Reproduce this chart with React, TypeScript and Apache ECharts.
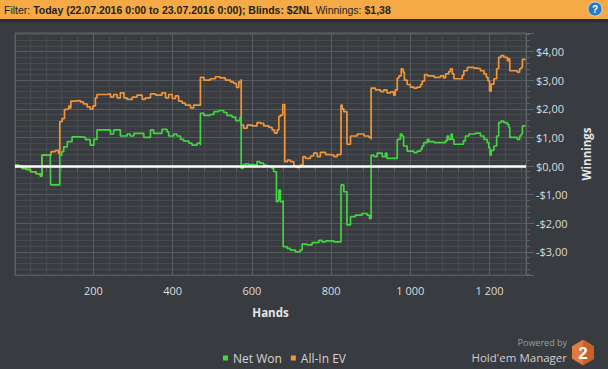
import React, { useEffect, useRef } from "react";
import * as echarts from "echarts";

// ---- data (hand number, winnings in $) ----
const netWon: [number, number][] = [
  [2, 0.03], [12, 0.0], [20, -0.08], [30, -0.12], [41, -0.2], [55, -0.27], [66, -0.35], [70, -0.35], [70, 0.38], [91, 0.38],
  [92, -0.66], [115, -0.66], [115, 0.38], [120, 0.5], [125, 0.67], [134, 0.85], [146, 1.02], [167, 1.0],
  [180, 0.92], [192, 0.73], [201, 0.93], [209, 1.26], [239, 1.26], [243, 1.12], [251, 1.26], [268, 1.05],
  [285, 1.12], [293, 1.05], [302, 1.14], [327, 1.0], [344, 1.26], [352, 1.14], [373, 1.28], [386, 1.19],
  [390, 1.05], [403, 1.12], [411, 1.05], [420, 0.93], [428, 0.87], [441, 0.8], [449, 0.73], [462, 0.8],
  [470, 0.73], [470, 1.84], [479, 1.77], [495, 1.8], [504, 1.9], [516, 1.94], [529, 1.87], [537, 1.77],
  [550, 1.71], [559, 1.59], [570, 1.7], [573, 1.7], [573, -0.08], [578, 0.05], [584, 0.08], [592, 0.05],
  [602, 0.03], [613, 0.15], [620, 0.1], [630, 0.03], [638, 0.0], [651, -0.08], [655, -0.2], [662, -0.2],
  [662, -1.25], [666, -1.2], [668, -0.84], [672, -1.25], [679, -1.2], [679, -2.82], [689, -2.88], [697, -2.94],
  [710, -3.0], [722, -2.94], [727, -2.73], [739, -2.76], [752, -2.68], [769, -2.6], [777, -2.65], [786, -2.62],
  [807, -2.65], [825, -2.6], [825, -0.66], [832, -0.9], [840, -0.9], [840, -2.06], [849, -1.77], [861, -1.72],
  [878, -1.66], [891, -1.72], [897, -1.84], [901, -1.84], [901, 0.38], [908, 0.33], [916, 0.45], [929, 0.33],
  [937, 0.45], [941, 0.27], [962, 0.27], [967, 0.93], [975, 1.12], [979, 1.05], [983, 0.7], [992, 0.52],
  [1009, 0.47], [1017, 0.52], [1026, 0.59], [1030, 0.7], [1034, 0.82], [1043, 0.93], [1047, 0.85], [1060, 0.82],
  [1084, 0.82], [1089, 0.88], [1093, 1.05], [1097, 0.93], [1103, 1.12], [1106, 0.93], [1110, 0.76], [1131, 0.76],
  [1134, 0.88], [1139, 1.05], [1148, 1.12], [1165, 1.15], [1177, 1.05], [1186, 0.93], [1194, 0.82], [1198, 0.64],
  [1201, 0.38], [1204, 0.55], [1211, 0.7], [1218, 1.05], [1223, 1.52], [1229, 1.57], [1236, 1.52], [1245, 1.45],
  [1249, 1.34], [1251, 1.0], [1266, 1.0], [1270, 0.93], [1276, 1.05], [1280, 1.12], [1283, 1.4], [1291, 1.42],
];

const allInEV: [number, number][] = [
  [2, 0.03], [12, 0.0], [20, -0.08], [30, -0.12], [41, -0.2], [55, -0.27], [66, -0.35], [70, -0.35], [70, 0.38], [91, 0.38],
  [93, 0.5], [104, 0.55], [112, 0.43], [115, 0.43], [115, 1.55], [121, 1.66], [127, 1.98], [134, 2.0],
  [138, 2.1], [140, 2.03], [143, 2.27], [155, 2.29], [167, 2.24], [175, 2.17], [184, 2.07], [192, 1.99],
  [199, 2.1], [205, 2.38], [209, 2.5], [234, 2.52], [243, 2.41], [251, 2.5], [260, 2.38], [268, 2.56],
  [277, 2.38], [285, 2.33], [298, 2.41], [310, 2.48], [323, 2.33], [331, 2.38], [344, 2.52], [357, 2.48],
  [373, 2.56], [382, 2.38], [390, 2.5], [399, 2.36], [407, 2.45], [415, 2.27], [424, 2.2], [432, 2.13],
  [445, 2.03], [453, 2.13], [470, 2.1], [470, 3.1], [479, 3.0], [495, 3.05], [508, 3.12], [520, 3.08],
  [533, 3.0], [546, 2.94], [554, 2.89], [561, 2.75], [567, 2.94], [573, 3.03], [573, 1.43], [579, 1.32],
  [588, 1.43], [601, 1.4], [613, 1.52], [622, 1.49], [630, 1.4], [643, 1.35], [651, 1.26], [657, 1.15],
  [664, 1.26], [668, 1.73], [672, 1.78], [678, 2.15], [683, 2.15], [683, 0.15], [690, 0.21], [697, 0.15],
  [706, 0.0], [713, -0.05], [722, 0.03], [729, 0.33], [735, 0.27], [748, 0.35], [756, 0.45], [765, 0.33],
  [773, 0.48], [786, 0.4], [798, 0.38], [807, 0.33], [815, 0.4], [825, 0.45], [825, 2.13], [828, 2.0],
  [832, 1.9], [840, 1.9], [840, 0.76], [849, 1.05], [866, 1.12], [883, 1.05], [895, 1.0], [901, 0.93],
  [901, 2.72], [912, 2.66], [925, 2.6], [933, 2.66], [941, 2.56], [950, 2.59], [958, 2.48], [962, 2.66],
  [967, 3.07], [971, 3.15], [977, 3.4], [982, 3.28], [985, 3.0], [992, 2.85], [1000, 2.76], [1009, 2.72],
  [1017, 2.76], [1026, 2.85], [1030, 2.97], [1036, 3.2], [1043, 3.15], [1060, 3.1], [1076, 3.15], [1084, 3.08],
  [1089, 3.22], [1097, 3.3], [1101, 3.4], [1106, 3.22], [1110, 3.05], [1127, 3.05], [1131, 3.17], [1135, 3.33],
  [1144, 3.45], [1160, 3.42], [1169, 3.4], [1177, 3.33], [1186, 3.22], [1192, 3.1], [1196, 2.98], [1200, 2.62],
  [1204, 2.86], [1211, 3.05], [1218, 3.4], [1223, 3.8], [1229, 3.86], [1236, 3.8], [1245, 3.68], [1248, 3.75],
  [1251, 3.33], [1266, 3.33], [1270, 3.28], [1276, 3.4], [1280, 3.45], [1283, 3.73], [1291, 3.75],
];

const seriesNames = ["Net Won", "All-In EV"];
const xRange = [2, 1292];
const yRange = [-3.81, 4.65];
const headerParts = {
  label1: "Filter: ",
  filter: "Today (22.07.2016 0:00 to 23.07.2016 0:00); Blinds: $2NL",
  label2: " Winnings: ",
  winnings: "$1,38",
};

const FONT = "'Open Sans', 'Noto Sans', sans-serif";
const GREEN = "#3fd63f";
const ORANGE = "#f0963a";
const BG = "#383b3f";
const AXIS = "#606367";

const fmtMoney = (v: number) =>
  (v < 0 ? "-" : "") + "$" + Math.abs(v).toFixed(2).replace(".", ",");
const fmtHands = (v: number) =>
  v >= 1000 ? Math.floor(v / 1000) + " " + String(v % 1000).padStart(3, "0") : String(v);

export default function App() {
  const ref = useRef<HTMLDivElement>(null);
  useEffect(() => {
    if (!ref.current) return;
    const chart = echarts.init(ref.current, undefined, { renderer: "svg" });
    const hexR = 12.7;
    const hcx = 583;
    const hcy = 352.5;
    const hex: number[][] = [];
    for (let i = 0; i < 6; i++) {
      const a = (Math.PI / 3) * i - Math.PI / 2;
      hex.push([hcx + hexR * Math.cos(a), hcy + hexR * Math.sin(a)]);
    }
    const option: any = {
      animation: false,
      backgroundColor: BG,
      grid: {
        left: 15,
        right: 82,
        top: 33,
        bottom: 94,
        show: true,
        borderColor: AXIS,
        borderWidth: 1,
        backgroundColor: "transparent",
      },
      legend: {
        data: seriesNames,
        left: 218,
        top: 347,
        icon: "rect",
        itemWidth: 5,
        itemHeight: 5,
        itemGap: 9,
        textStyle: { color: "#d4d4d4", fontSize: 12, fontFamily: FONT },
      },
      xAxis: {
        type: "value",
        min: xRange[0],
        max: xRange[1],
        splitNumber: 6,
        name: "Hands",
        nameLocation: "middle",
        nameGap: 31,
        nameTextStyle: { color: "#e6e6e6", fontSize: 11.5, fontWeight: "bold", fontFamily: FONT },
        axisLine: { show: true, lineStyle: { color: AXIS } },
        axisTick: { show: true, length: 8, lineStyle: { color: AXIS } },
        minorTick: { show: true, splitNumber: 5, length: 5, lineStyle: { color: AXIS } },
        axisLabel: {
          color: "#dcdcdc",
          fontSize: 11,
          fontFamily: FONT,
          margin: 10,
          showMinLabel: false,
          showMaxLabel: false,
          formatter: fmtHands,
        },
        splitLine: { show: true, lineStyle: { color: "#5a5d61", width: 1 } },
        minorSplitLine: { show: true, lineStyle: { color: "#47494d", width: 1 } },
      },
      yAxis: {
        type: "value",
        position: "right",
        min: yRange[0],
        max: yRange[1],
        splitNumber: 8,
        name: "Winnings",
        nameLocation: "middle",
        nameRotate: 90,
        nameGap: 54,
        nameTextStyle: { color: "#e6e6e6", fontSize: 11.5, fontWeight: "bold", fontFamily: FONT },
        axisLine: { show: true, lineStyle: { color: AXIS } },
        axisTick: { show: true, length: 8, lineStyle: { color: AXIS } },
        minorTick: { show: true, splitNumber: 5, length: 4, lineStyle: { color: AXIS } },
        axisLabel: {
          color: "#dcdcdc",
          fontSize: 11,
          fontFamily: FONT,
          margin: 10,
          showMinLabel: false,
          showMaxLabel: false,
          formatter: fmtMoney,
        },
        splitLine: { show: true, lineStyle: { color: "#5a5d61", width: 1 } },
        minorSplitLine: { show: true, lineStyle: { color: "#47494d", width: 1 } },
      },
      series: [
        {
          name: seriesNames[1],
          type: "line",
          step: "end",
          data: allInEV,
          symbol: "none",
          lineStyle: { color: ORANGE, width: 1.7 },
          itemStyle: { color: ORANGE },
        },
        {
          name: seriesNames[0],
          type: "line",
          step: "end",
          data: netWon,
          symbol: "none",
          lineStyle: { color: GREEN, width: 1.7 },
          itemStyle: { color: GREEN },
          markLine: {
            silent: true,
            symbol: ["none", "none"],
            label: { show: false },
            lineStyle: { color: "#ffffff", width: 2.5, type: "solid" },
            data: [{ yAxis: 0 }],
          },
        },
      ],
      graphic: [
        { type: "rect", shape: { x: 0, y: 0, width: 608, height: 19 }, style: { fill: "#f5aa45" }, z: 10 },
        { type: "rect", shape: { x: 0, y: 19, width: 608, height: 3 }, style: { fill: "#2b2d30" }, z: 10 },
        {
          type: "text",
          x: 4,
          y: 9.5,
          z: 11,
          style: {
            text:
              "{n|" + headerParts.label1 + "}{b|" + headerParts.filter + "}{n|" +
              headerParts.label2 + "}{b|" + headerParts.winnings + "}",
            textVerticalAlign: "middle",
            rich: {
              n: { fontFamily: "'Liberation Sans', Arial, sans-serif", fontSize: 10.5, fill: "#1e1e1e", color: "#1e1e1e" },
              b: { fontFamily: "'Liberation Sans', Arial, sans-serif", fontSize: 10.5, fontWeight: "bold", fill: "#1e1e1e", color: "#1e1e1e" },
            },
          },
        },
        {
          type: "circle",
          shape: { cx: 595, cy: 9, r: 7 },
          style: { fill: "#2a78c4", stroke: "#cfe2f5", lineWidth: 0.8 },
          z: 11,
        },
        {
          type: "text",
          x: 595,
          y: 9.5,
          z: 12,
          style: {
            text: "?",
            fill: "#ffffff",
            font: "bold 10px 'Liberation Sans', Arial, sans-serif",
            textAlign: "center",
            textVerticalAlign: "middle",
          },
        },
        {
          type: "text",
          x: 567,
          y: 342,
          style: {
            text: "Powered by",
            fill: "#9e9e9e",
            font: "9px " + FONT,
            textAlign: "right",
            textVerticalAlign: "middle",
          },
        },
        {
          type: "text",
          x: 567,
          y: 357,
          style: {
            text: "Hold'em Manager",
            fill: "#cfcfcf",
            font: "11.5px " + FONT,
            textAlign: "right",
            textVerticalAlign: "middle",
          },
        },
        { type: "polygon", shape: { points: hex }, style: { fill: "#e07b3c" } },
        {
          type: "polygon",
          shape: { points: [hex[0], hex[1], hex[2], hex[3]] },
          style: { fill: "#c8602a" },
        },
        {
          type: "text",
          x: hcx,
          y: hcy + 0.5,
          style: {
            text: "2",
            fill: "#ffffff",
            font: "bold 17px 'Liberation Sans', Arial, sans-serif",
            textAlign: "center",
            textVerticalAlign: "middle",
          },
        },
      ],
    };
    chart.setOption(option);
    return () => chart.dispose();
  }, []);
  return (
    <div
      ref={ref}
      style={{ position: "fixed", left: 0, top: 0, width: 608, height: 369 }}
    />
  );
}
